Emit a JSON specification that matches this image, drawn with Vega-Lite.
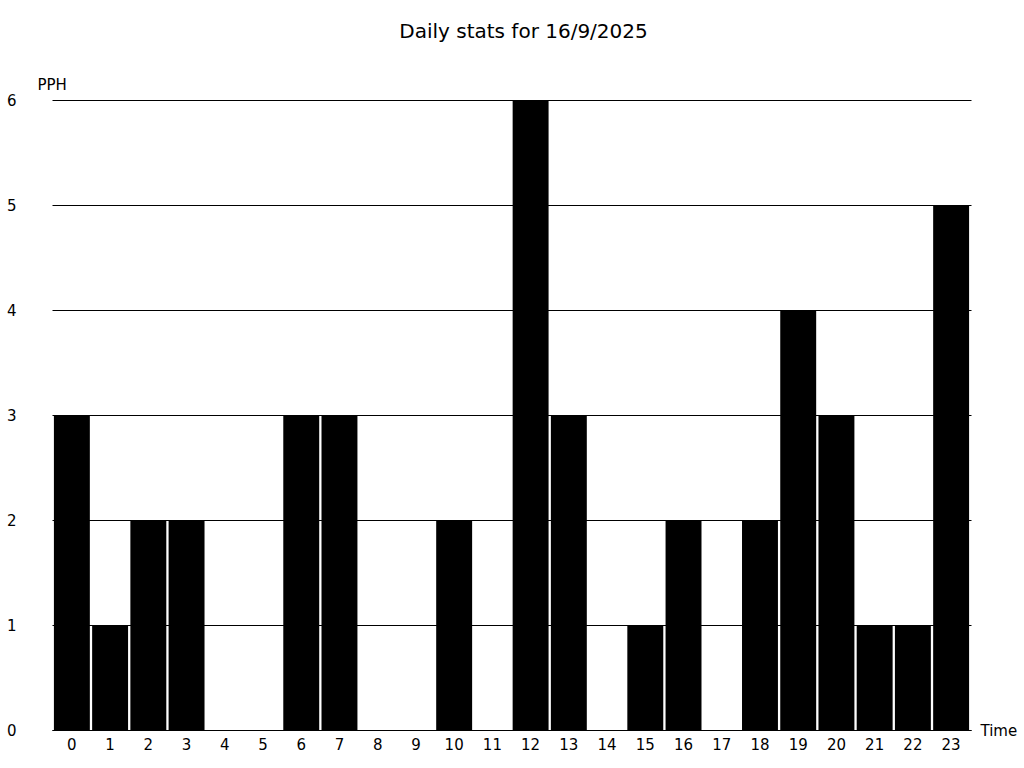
{
  "$schema": "https://vega.github.io/schema/vega-lite/v6.json",
  "autosize": "none",
  "width": 919,
  "height": 630,
  "padding": {"left": 52, "top": 100, "right": 53, "bottom": 38},
  "background": "white",
  "title": {"text": "Daily stats for 16/9/2025", "font": "DejaVu Sans", "fontSize": 20, "fontWeight": "normal", "color": "black", "anchor": "middle", "dx": 12, "offset": 35},
  "config": {"view": {"stroke": null}, "font": "DejaVu Sans"},
  "data": {"values": [
    {"hour": "0", "pph": 3}, {"hour": "1", "pph": 1}, {"hour": "2", "pph": 2}, {"hour": "3", "pph": 2},
    {"hour": "4", "pph": 0}, {"hour": "5", "pph": 0}, {"hour": "6", "pph": 3}, {"hour": "7", "pph": 3},
    {"hour": "8", "pph": 0}, {"hour": "9", "pph": 0}, {"hour": "10", "pph": 2}, {"hour": "11", "pph": 0},
    {"hour": "12", "pph": 6}, {"hour": "13", "pph": 3}, {"hour": "14", "pph": 0}, {"hour": "15", "pph": 1},
    {"hour": "16", "pph": 2}, {"hour": "17", "pph": 0}, {"hour": "18", "pph": 2}, {"hour": "19", "pph": 4},
    {"hour": "20", "pph": 3}, {"hour": "21", "pph": 1}, {"hour": "22", "pph": 1}, {"hour": "23", "pph": 5}
  ]},
  "mark": {"type": "bar", "color": "black"},
  "encoding": {
    "x": {"field": "hour", "type": "ordinal", "sort": null,
      "scale": {"paddingInner": 0.06, "paddingOuter": 0.05},
      "axis": {"title": "Time", "titleX": 928, "titleY": 0, "titleAlign": "left", "titleBaseline": "middle", "titleFontWeight": "normal", "titleFontSize": 15, "titleColor": "black",
        "labelAngle": 0, "labelFontSize": 15, "labelColor": "black", "labelPadding": 7, "labelDx": -2, "ticks": false, "domain": true, "domainColor": "black", "domainWidth": 1, "grid": false}},
    "y": {"field": "pph", "type": "quantitative",
      "scale": {"domain": [0, 6], "nice": false},
      "axis": {"title": "PPH", "titleAngle": 0, "titleX": -15, "titleY": -16, "titleAlign": "left", "titleBaseline": "middle", "titleFontWeight": "normal", "titleFontSize": 15, "titleColor": "black",
        "values": [0, 1, 2, 3, 4, 5, 6], "labelFontSize": 15, "labelColor": "black", "labelPadding": 36, "ticks": false, "domain": false,
        "grid": true, "gridColor": "black", "gridWidth": 1, "gridOpacity": 1}}
  }
}
